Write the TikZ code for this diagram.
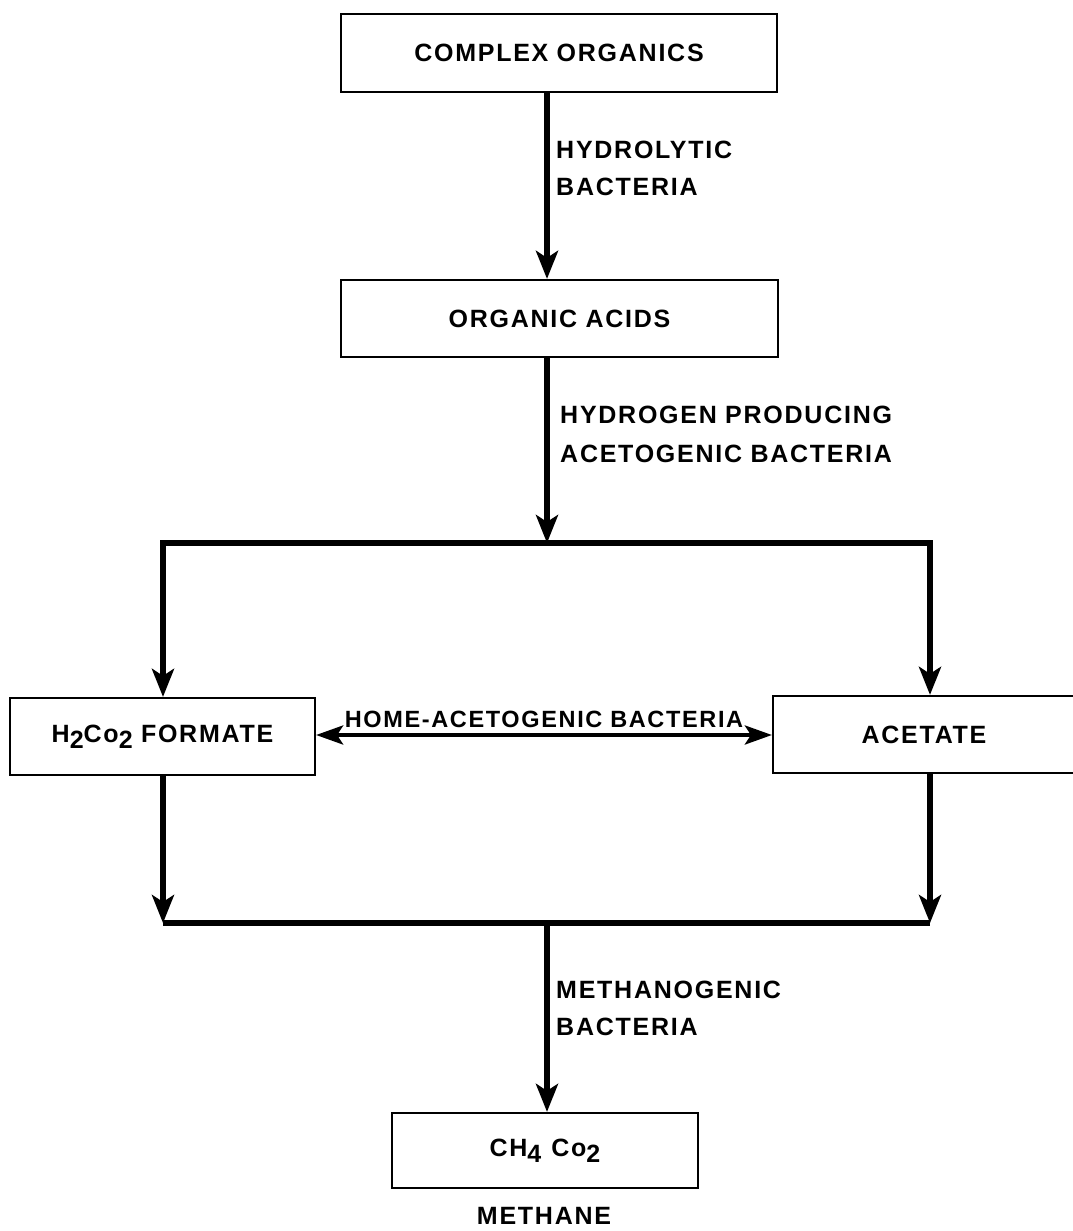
\documentclass[tikz,border=0pt]{standalone}
\usepackage{fontspec}
\setmainfont{Liberation Sans}[LetterSpace=7]
\usetikzlibrary{arrows.meta}
\begin{document}
\begin{tikzpicture}[x=1pt,y=-1pt,
  txt/.style={font=\bfseries\fontsize{25}{30}\selectfont, inner sep=0pt},
  box/.style={draw, line width=2.2pt, inner sep=0pt, font=\bfseries\fontsize{25}{30}\selectfont},
  flow/.style={line width=5.5pt, -{Stealth[length=28pt,width=22pt,inset=7pt]}},
  flowline/.style={line width=5.5pt},
  both/.style={line width=4pt, {Stealth[length=27pt,width=19pt,inset=6pt]}-{Stealth[length=27pt,width=19pt,inset=6pt]}}
]
\useasboundingbox (0,0) rectangle (1073,1231);
\newcommand{\sub}[1]{\raisebox{-0.45ex}{#1}}

% boxes
\node[box, minimum width=436pt, minimum height=78pt] (co) at (559,53) {COMPLEX\,\,ORGANICS};
\node[box, minimum width=437pt, minimum height=77pt] (oa) at (559.5,318.5) {ORGANIC\,\,ACIDS};
\node[box, minimum width=305pt, minimum height=77pt] (fm) at (162.5,736.5) {H\sub{2}Co\sub{2}\,\,FORMATE};
\node[box, minimum width=302pt, minimum height=77pt] (ac) at (924,734.5) {ACETATE};
\node[box, minimum width=306pt, minimum height=75pt] (ch) at (545,1150.5) {CH\sub{4}\hspace{10pt}Co\sub{2}};
\node[txt] (me) at (544,1216) {METHANE};

% helper coordinates
\coordinate (mx) at (547,0);
\coordinate (lx) at (163,0);
\coordinate (rx) at (930,0);
\coordinate (jt) at (547,543);
\coordinate (jb) at (547,923);

% vertical flow
\draw[flow] (co.south -| mx) -- (oa.north -| mx);
\draw[flow] (oa.south -| mx) -- (jt);
\draw[flow] (jt) -| (fm.north -| lx);
\draw[flow] (jt) -| (ac.north -| rx);
\draw[flow] (fm.south -| lx) -- (jb -| lx);
\draw[flow] (ac.south -| rx) -- (jb -| rx);
\draw[flowline] (jb -| lx) -- (jb -| rx);
\draw[flow] (jb) -- (ch.north -| mx);

% double arrow
\draw[both] (fm.east |- 0,735) -- node[txt, font=\bfseries\fontsize{23.5}{28}\selectfont, above=5pt] (hl) {HOME-ACETOGENIC\,\,BACTERIA} (ac.west |- 0,735);

% labels
\node[txt, anchor=west] (l1) at (556,150) {HYDROLYTIC};
\node[txt, anchor=west] (l2) at (556,187) {BACTERIA};
\node[txt, anchor=west] (l3) at (560,415) {HYDROGEN\,\,PRODUCING};
\node[txt, anchor=west] (l4) at (560,454) {ACETOGENIC\,\,BACTERIA};
\node[txt, anchor=west] (l5) at (556,990) {METHANOGENIC};
\node[txt, anchor=west] (l6) at (556,1027) {BACTERIA};
\end{tikzpicture}
\end{document}
